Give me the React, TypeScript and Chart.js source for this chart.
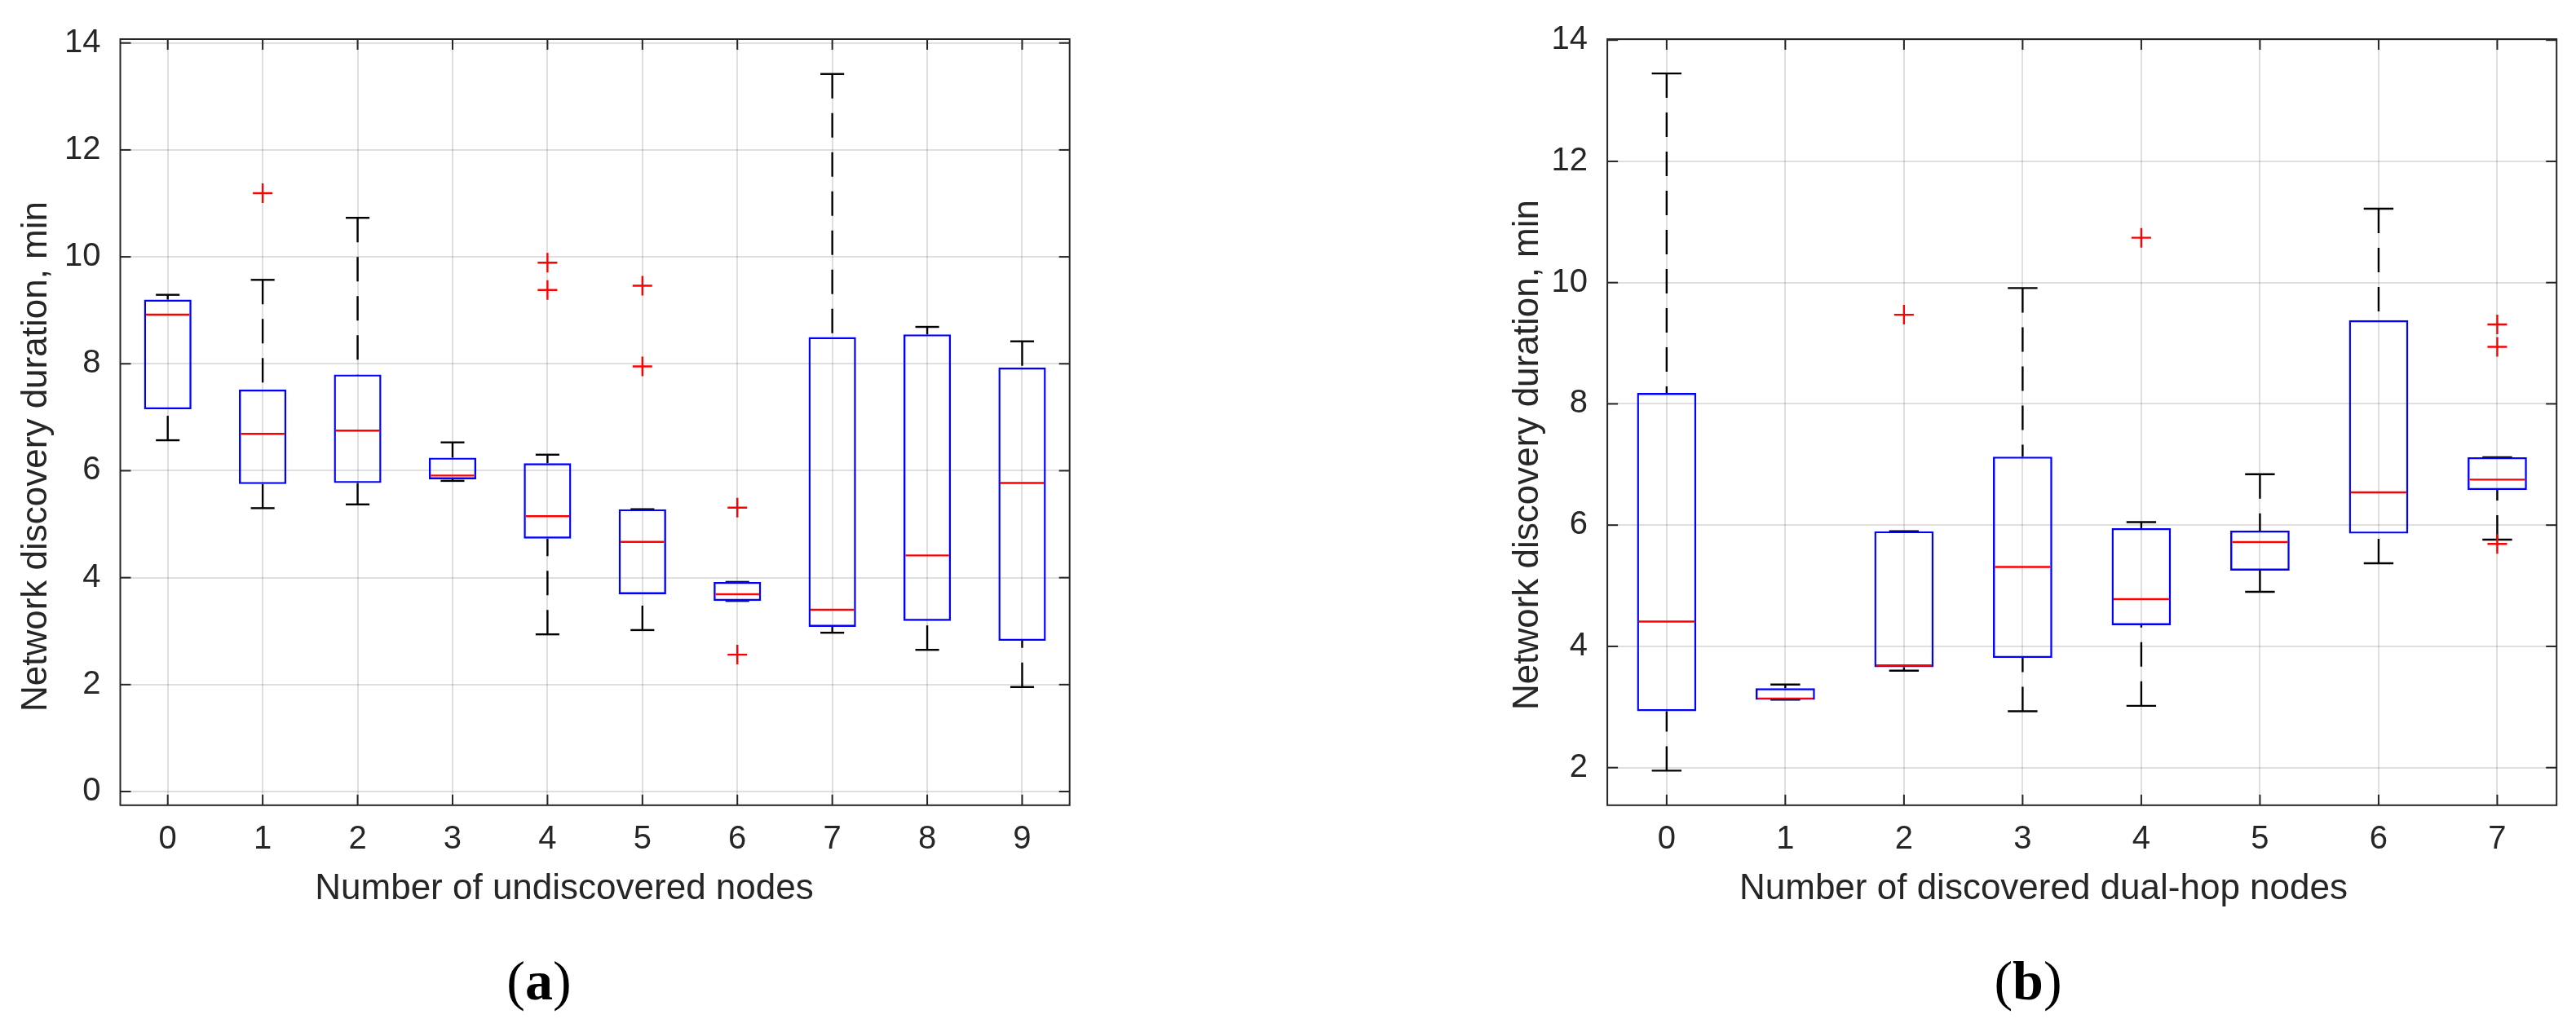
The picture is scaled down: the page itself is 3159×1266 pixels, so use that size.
import React, { useEffect, useRef } from 'react';
import { Chart, registerables } from 'chart.js';

Chart.register(...registerables);

// ---------- Panel (a): Number of undiscovered nodes ----------
const catsA = ['0', '1', '2', '3', '4', '5', '6', '7', '8', '9'];
const whiskerLoA = [6.57, 5.30, 5.37, 5.81, 2.94, 3.02, 3.565, 2.97, 2.65, 1.955];
const q1A = [7.15, 5.75, 5.77, 5.84, 4.73, 3.69, 3.565, 3.08, 3.19, 2.82];
const medianA = [8.92, 6.69, 6.75, 5.91, 5.15, 4.67, 3.69, 3.40, 4.415, 5.77];
const q3A = [9.20, 7.52, 7.80, 6.245, 6.14, 5.28, 3.92, 8.50, 8.55, 7.93];
const whiskerHiA = [9.29, 9.57, 10.73, 6.53, 6.30, 5.28, 3.92, 13.42, 8.69, 8.42];
const outlierCatA = [1, 4, 4, 5, 5, 6, 6];
const outlierValA = [11.19, 9.89, 9.38, 9.46, 7.95, 5.31, 2.56];
const yTicksA = [0, 2, 4, 6, 8, 10, 12, 14];

// ---------- Panel (b): Number of discovered dual-hop nodes ----------
const catsB = ['0', '1', '2', '3', '4', '5', '6', '7'];
const whiskerLoB = [1.95, 3.12, 3.60, 2.93, 3.02, 4.90, 5.37, 5.76];
const q1B = [2.93, 3.12, 3.656, 3.81, 4.35, 5.25, 5.86, 6.58];
const medianB = [4.41, 3.14, 3.686, 5.31, 4.78, 5.72, 6.54, 6.75];
const q3B = [8.18, 3.31, 5.90, 7.13, 5.95, 5.91, 9.38, 7.12];
const whiskerHiB = [13.45, 3.37, 5.90, 9.91, 6.05, 6.84, 11.22, 7.12];
const outlierCatB = [2, 4, 7, 7, 7];
const outlierValB = [9.47, 10.74, 9.31, 8.94, 5.69];
const yTicksB = [2, 4, 6, 8, 10, 12, 14];

const FONT = "'Liberation Sans', Arial, Helvetica, sans-serif";
const SERIF = "'Liberation Serif', 'Times New Roman', serif";
const AXC = '#262626';
const GRIDC = 'rgba(38,38,38,0.15)';
const LW = 2.4;

type Panel = {
  cats: string[];
  lo: number[];
  q1: number[];
  med: number[];
  q3: number[];
  hi: number[];
  oCat: number[];
  oVal: number[];
  yTicks: number[];
  yMin: number;
  yMax: number;
  xTitle: string;
  yTitle: string;
  captionLetter: string;
  canvasLeft: number;
  canvasWidth: number;
  areaLeft: number;
  areaTop: number;
  areaRight: number;
  areaBottom: number;
  xTitleX: number;
  yTitleX: number;
  yTitleY: number;
  captionX: number;
};

const H = 1266;

const panelA: Panel = {
  cats: catsA, lo: whiskerLoA, q1: q1A, med: medianA, q3: q3A, hi: whiskerHiA,
  oCat: outlierCatA, oVal: outlierValA, yTicks: yTicksA, yMin: -0.256, yMax: 14.072,
  xTitle: 'Number of undiscovered nodes',
  yTitle: 'Network discovery duration, min',
  captionLetter: 'a',
  canvasLeft: 0, canvasWidth: 1580,
  areaLeft: 147.5, areaTop: 36, areaRight: 1311.7, areaBottom: 987.8,
  xTitleX: 692, yTitleX: 57, yTitleY: 560, captionX: 661,
};

const panelB: Panel = {
  cats: catsB, lo: whiskerLoB, q1: q1B, med: medianB, q3: q3B, hi: whiskerHiB,
  oCat: outlierCatB, oVal: outlierValB, yTicks: yTicksB, yMin: 1.38, yMax: 14.016,
  xTitle: 'Number of discovered dual-hop nodes',
  yTitle: 'Network discovery duration, min',
  captionLetter: 'b',
  canvasLeft: 1580, canvasWidth: 1579,
  areaLeft: 391.1, areaTop: 33.5, areaRight: 1555.2, areaBottom: 987.8,
  xTitleX: 926, yTitleX: 306, yTitleY: 558, captionX: 907,
};

function makePlugin(p: Panel) {
  const seg = (ctx: CanvasRenderingContext2D, x1: number, y1: number, x2: number, y2: number) => {
    ctx.beginPath();
    ctx.moveTo(x1, y1);
    ctx.lineTo(x2, y2);
    ctx.stroke();
  };
  return {
    id: 'boxParts',
    beforeDatasetsDraw(chart: any) {
      const { ctx, scales } = chart;
      const x = scales.x, y = scales.y;
      const unit = x.getPixelForValue(1) - x.getPixelForValue(0);
      const hw = unit * 0.125;
      ctx.save();
      ctx.strokeStyle = '#000000';
      ctx.lineWidth = LW;
      p.cats.forEach((_, i) => {
        const cx = x.getPixelForValue(i);
        const yHi = y.getPixelForValue(p.hi[i]);
        const yQ3 = y.getPixelForValue(p.q3[i]);
        const yQ1 = y.getPixelForValue(p.q1[i]);
        const yLo = y.getPixelForValue(p.lo[i]);
        ctx.setLineDash([30, 18]);
        if (yQ3 - yHi > 0.5) seg(ctx, cx, yHi, cx, yQ3);
        if (yLo - yQ1 > 0.5) seg(ctx, cx, yLo, cx, yQ1);
        ctx.setLineDash([]);
        seg(ctx, cx - hw, yHi, cx + hw, yHi);
        seg(ctx, cx - hw, yLo, cx + hw, yLo);
      });
      ctx.restore();
    },
    afterDatasetsDraw(chart: any) {
      const { ctx, scales, chartArea } = chart;
      const x = scales.x, y = scales.y;
      const unit = x.getPixelForValue(1) - x.getPixelForValue(0);
      const bw = unit * 0.25;
      ctx.save();
      ctx.strokeStyle = '#ff0000';
      ctx.lineWidth = LW;
      p.cats.forEach((_, i) => {
        const cx = x.getPixelForValue(i);
        const ym = y.getPixelForValue(p.med[i]);
        seg(ctx, cx - bw + LW, ym, cx + bw - LW, ym);
      });
      ctx.strokeStyle = AXC;
      ctx.lineWidth = 2;
      const { left, top, right, bottom } = chartArea;
      ctx.strokeRect(left, top, right - left, bottom - top);
      const tl = 13;
      p.yTicks.forEach((v) => {
        const py = y.getPixelForValue(v);
        seg(ctx, left, py, left + tl, py);
        seg(ctx, right - tl, py, right, py);
      });
      p.cats.forEach((_, i) => {
        const px = x.getPixelForValue(i);
        seg(ctx, px, top, px, top + tl);
        seg(ctx, px, bottom - tl, px, bottom);
      });
      ctx.restore();
    },
    afterDraw(chart: any) {
      const { ctx } = chart;
      ctx.save();
      ctx.fillStyle = AXC;
      ctx.font = `44px ${FONT}`;
      ctx.textBaseline = 'alphabetic';
      ctx.textAlign = 'center';
      ctx.fillText(p.xTitle, p.xTitleX, 1103);
      ctx.save();
      ctx.translate(p.yTitleX, p.yTitleY);
      ctx.rotate(-Math.PI / 2);
      ctx.fillText(p.yTitle, 0, 0);
      ctx.restore();
      ctx.fillStyle = '#000000';
      ctx.textAlign = 'left';
      const reg = `68px ${SERIF}`;
      const bold = `bold 68px ${SERIF}`;
      ctx.font = reg;
      const wOpen = ctx.measureText('(').width;
      const wClose = ctx.measureText(')').width;
      ctx.font = bold;
      const wL = ctx.measureText(p.captionLetter).width;
      const total = wOpen + wL + wClose;
      let cx = p.captionX - total / 2;
      ctx.font = reg;
      ctx.fillText('(', cx, 1226);
      cx += wOpen;
      ctx.font = bold;
      ctx.fillText(p.captionLetter, cx, 1226);
      cx += wL;
      ctx.font = reg;
      ctx.fillText(')', cx, 1226);
      ctx.restore();
    },
  };
}

function BoxPanel({ p }: { p: Panel }) {
  const ref = useRef<HTMLCanvasElement | null>(null);
  useEffect(() => {
    if (!ref.current) return;
    const xAxisH = 100;
    const chart = new Chart(ref.current, {
      type: 'bar',
      data: {
        labels: p.cats,
        datasets: [
          {
            type: 'bar',
            data: p.q1.map((v, i) => [v, p.q3[i]]) as any,
            backgroundColor: 'rgba(0,0,0,0)',
            borderColor: '#0000ff',
            borderWidth: LW,
            borderSkipped: false,
            barPercentage: 0.5,
            categoryPercentage: 1,
          } as any,
          {
            type: 'scatter',
            data: p.oCat.map((c, i) => ({ x: p.cats[c], y: p.oVal[i] })) as any,
            pointStyle: 'cross',
            radius: 12,
            borderColor: '#ff0000',
            backgroundColor: '#ff0000',
            borderWidth: LW,
            showLine: false,
          } as any,
        ],
      },
      options: {
        responsive: false,
        animation: false,
        devicePixelRatio: 1,
        events: [],
        layout: {
          padding: {
            left: 0,
            top: p.areaTop,
            right: p.canvasWidth - p.areaRight,
            bottom: H - p.areaBottom - xAxisH,
          },
        },
        plugins: {
          legend: { display: false },
          tooltip: { enabled: false },
          title: { display: false },
        },
        scales: {
          x: {
            type: 'category',
            offset: true,
            grid: { offset: false, color: GRIDC, lineWidth: 2, drawTicks: false },
            border: { display: false },
            ticks: {
              color: AXC,
              font: { family: FONT, size: 40 },
              padding: 18,
              maxRotation: 0,
              autoSkip: false,
            },
            afterFit: (s: any) => {
              s.height = xAxisH;
            },
          },
          y: {
            type: 'linear',
            min: p.yMin,
            max: p.yMax,
            afterBuildTicks: (s: any) => {
              s.ticks = p.yTicks.map((v) => ({ value: v }));
            },
            grid: { color: GRIDC, lineWidth: 2, drawTicks: false },
            border: { display: false },
            ticks: {
              color: AXC,
              font: { family: FONT, size: 40 },
              padding: 24,
              callback: (v: any) => String(v),
            },
            afterFit: (s: any) => {
              s.width = p.areaLeft;
            },
          },
        },
      } as any,
      plugins: [makePlugin(p)],
    });
    return () => chart.destroy();
  }, [p]);
  return (
    <canvas
      ref={ref}
      width={p.canvasWidth}
      height={H}
      style={{
        position: 'absolute',
        left: p.canvasLeft,
        top: 0,
        width: p.canvasWidth,
        height: H,
      }}
    />
  );
}

export default function App() {
  return (
    <div
      style={{
        position: 'absolute',
        left: 0,
        top: 0,
        width: 3159,
        height: H,
        background: '#ffffff',
        overflow: 'hidden',
      }}
    >
      <BoxPanel p={panelA} />
      <BoxPanel p={panelB} />
    </div>
  );
}
